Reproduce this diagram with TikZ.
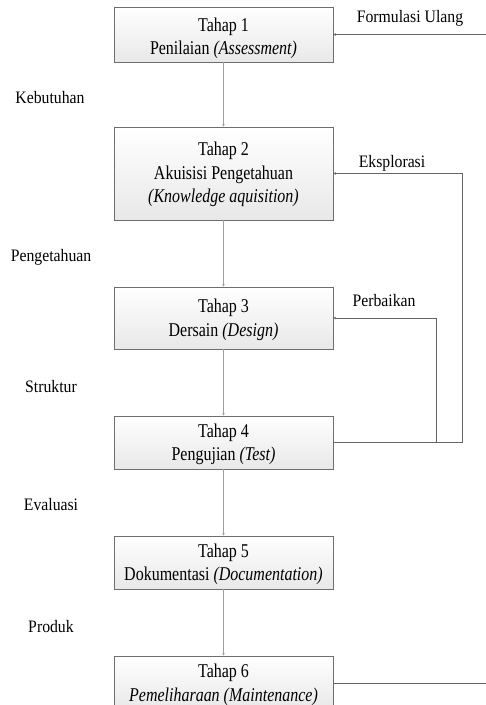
\documentclass[tikz,border=0pt]{standalone}
\usepackage{graphicx}
\usepackage{fontspec}
\setmainfont{Liberation Serif}
\usetikzlibrary{arrows.meta}
\definecolor{boxline}{RGB}{110,110,110}
\definecolor{conn}{RGB}{160,160,160}
\definecolor{fb}{RGB}{100,100,100}
\definecolor{boxbot}{RGB}{232,232,232}
\newcommand{\stxt}[2]{\raisebox{#1}[\height][\depth]{\scalebox{0.82}[1]{\begin{tabular}{@{}c@{}}#2\end{tabular}}}}
\newcommand{\ltxt}[1]{\scalebox{0.9}[1]{#1}}
\tikzset{
  stage/.style={draw=boxline, line width=0.9pt, top color=white, bottom color=boxbot,
    minimum width=219pt, inner sep=0pt, font=\fontsize{19.5}{23.5}\selectfont},
  lbl/.style={inner sep=0pt, font=\fontsize{17.5}{20}\selectfont},
  flow/.style={draw=conn, line width=1.2pt, -{Stealth[length=2.5pt,width=2.5pt]}},
  back/.style={draw=fb, line width=0.9pt, -{Stealth[length=2.5pt,width=2.5pt]}},
  outline/.style={draw=fb, line width=0.9pt}
}
\begin{document}
\begin{tikzpicture}[x=1pt,y=-1pt]
\useasboundingbox (0,0) rectangle (486,705);
\clip (0,0) rectangle (486,705);
\fill[white] (0,0) rectangle (486,705);

\node[stage, minimum height=55pt] (b1) at (223.5,34.5) {\stxt{-4pt}{Tahap 1\\Penilaian \textit{(Assessment)}}};
\node[stage, minimum height=93pt] (b2) at (223.5,173.5) {\stxt{-1pt}{Tahap 2\\Akuisisi Pengetahuan\\\textit{(Knowledge aquisition)}}};
\node[stage, minimum height=62pt] (b3) at (223.5,318) {\stxt{-2pt}{Tahap 3\\Dersain \textit{(Design)}}};
\node[stage, minimum height=53pt] (b4) at (223.5,442.5) {\stxt{-2pt}{Tahap 4\\Pengujian \textit{(Test)}}};
\node[stage, minimum height=53pt] (b5) at (223.5,562.5) {\stxt{-2pt}{Tahap 5\\Dokumentasi \textit{(Documentation)}}};
\node[stage, minimum height=54pt] (b6) at (223.5,683) {\stxt{-2pt}{Tahap 6\\\textit{Pemeliharaan (Maintenance)}}};

\node[lbl] (k) at (50,98) {\ltxt{Kebutuhan}};
\node[lbl] (p) at (51,257) {\ltxt{Pengetahuan}};
\node[lbl] (s) at (51,387) {\ltxt{Struktur}};
\node[lbl] (e) at (51,505) {\ltxt{Evaluasi}};
\node[lbl] (pr) at (51,627) {\ltxt{Produk}};

\node[lbl] (fu) at (410,18) {\ltxt{Formulasi Ulang}};
\node[lbl] (ek) at (392,163) {\ltxt{Eksplorasi}};
\node[lbl] (pb) at (384,301) {\ltxt{Perbaikan}};

\draw[flow] (b1) -- (b2);
\draw[flow] (b2) -- (b3);
\draw[flow] (b3) -- (b4);
\draw[flow] (b4) -- (b5);
\draw[flow] (b5) -- (b6);

\coordinate (rin) at (486,34.5);
\coordinate (rout) at (486,683);
\coordinate (xe) at (462,0);
\coordinate (xp) at (436,0);

\draw[back] (rin) -- (b1.east);
\draw[back] (b4.east) -- (b4.east -| xe) -- (b2.east -| xe) -- (b2.east);
\draw[back] (b4.east) -- (b4.east -| xp) -- (b3.east -| xp) -- (b3.east);
\draw[outline] (b6.east) -- (rout);
\end{tikzpicture}
\end{document}
